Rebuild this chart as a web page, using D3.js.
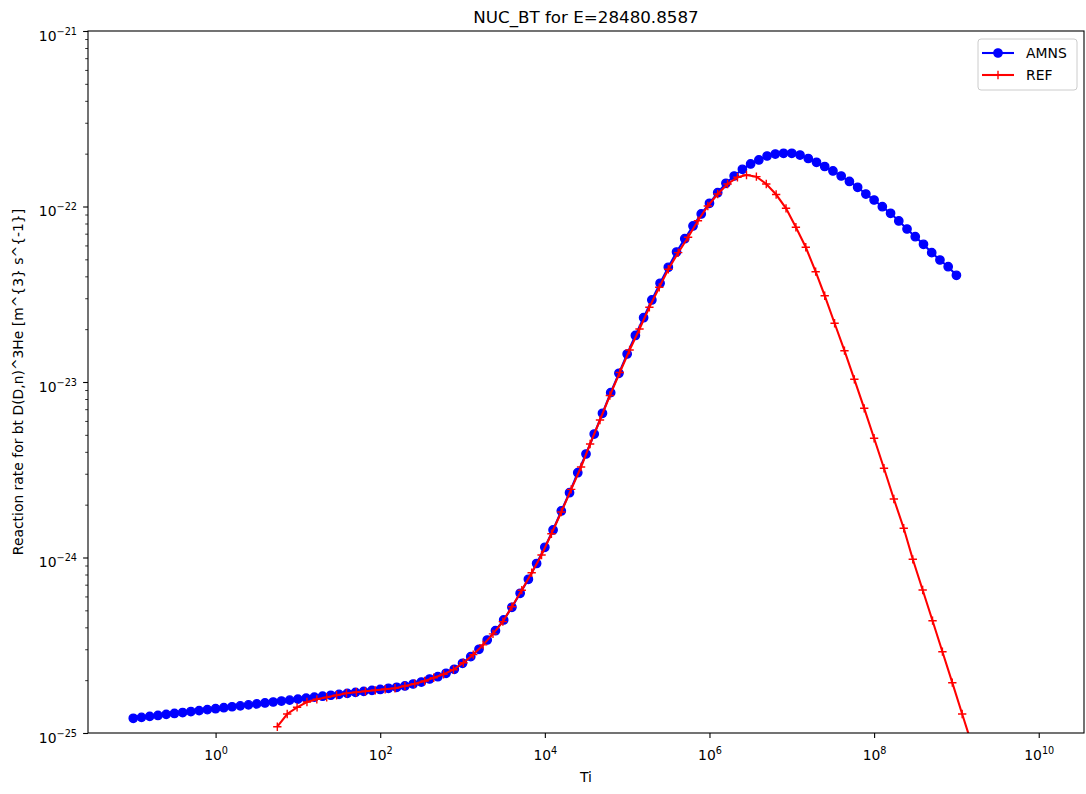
<!DOCTYPE html>
<html>
<head>
<meta charset="utf-8">
<script src="https://cdn.jsdelivr.net/npm/d3@7"></script>
<style>
  body { margin: 0; background: #fff; }
  svg { display: block; font-family: "DejaVu Sans", sans-serif; }
  svg text { font-family: "DejaVu Sans", sans-serif; }
</style>
</head>
<body>
<svg id="chart" width="1086" height="794"></svg>
<script>
// --- DATA ---
// Ti is stored as log10 exponents, rates in m^3 s^-1
const amnsTiExp = [
  -1.0, -0.9, -0.8, -0.7, -0.6, -0.5, -0.4, -0.3, -0.2, -0.1,
  0.0, 0.1, 0.2, 0.3, 0.4, 0.5, 0.6, 0.7, 0.8, 0.9,
  1.0, 1.1, 1.2, 1.3, 1.4, 1.5, 1.6, 1.7, 1.8, 1.9,
  2.0, 2.1, 2.2, 2.3, 2.4, 2.5, 2.6, 2.7, 2.8, 2.9,
  3.0, 3.1, 3.2, 3.3, 3.4, 3.5, 3.6, 3.7, 3.8, 3.9,
  4.0, 4.1, 4.2, 4.3, 4.4, 4.5, 4.6, 4.7, 4.8, 4.9,
  5.0, 5.1, 5.2, 5.3, 5.4, 5.5, 5.6, 5.7, 5.8, 5.9,
  6.0, 6.1, 6.2, 6.3, 6.4, 6.5, 6.6, 6.7, 6.8, 6.9,
  7.0, 7.1, 7.2, 7.3, 7.4, 7.5, 7.6, 7.7, 7.8, 7.9,
  8.0, 8.1, 8.2, 8.3, 8.4, 8.5, 8.6, 8.7, 8.8, 8.9,
  9.0
];
const amnsRate = [
  1.213e-25, 1.228e-25, 1.244e-25, 1.259e-25, 1.276e-25, 1.292e-25, 1.308e-25, 1.325e-25, 1.341e-25, 1.358e-25,
  1.375e-25, 1.393e-25, 1.411e-25, 1.428e-25, 1.447e-25, 1.465e-25, 1.483e-25, 1.502e-25, 1.521e-25, 1.540e-25,
  1.560e-25, 1.579e-25, 1.600e-25, 1.620e-25, 1.641e-25, 1.661e-25, 1.683e-25, 1.704e-25, 1.726e-25, 1.748e-25,
  1.770e-25, 1.798e-25, 1.822e-25, 1.853e-25, 1.902e-25, 1.952e-25, 2.031e-25, 2.093e-25, 2.189e-25, 2.307e-25,
  2.496e-25, 2.722e-25, 2.999e-25, 3.388e-25, 3.827e-25, 4.405e-25, 5.203e-25, 6.252e-25, 7.512e-25, 9.243e-25,
  1.143e-24, 1.435e-24, 1.841e-24, 2.339e-24, 3.042e-24, 3.888e-24, 5.053e-24, 6.632e-24, 8.695e-24, 1.121e-23,
  1.444e-23, 1.841e-23, 2.325e-23, 2.933e-23, 3.651e-23, 4.503e-23, 5.504e-23, 6.553e-23, 7.744e-23, 9.066e-23,
  1.043e-22, 1.198e-22, 1.356e-22, 1.492e-22, 1.629e-22, 1.747e-22, 1.841e-22, 1.940e-22, 1.991e-22, 2.010e-22,
  2.010e-22, 1.965e-22, 1.877e-22, 1.786e-22, 1.690e-22, 1.594e-22, 1.492e-22, 1.389e-22, 1.287e-22, 1.178e-22,
  1.089e-22, 9.974e-23, 9.149e-23, 8.270e-23, 7.443e-23, 6.729e-23, 6.090e-23, 5.456e-23, 4.956e-23, 4.539e-23,
  4.055e-23
];

const refTiExp = [
  0.75, 0.87, 0.99, 1.11, 1.23, 1.35, 1.47, 1.59, 1.71, 1.82,
  1.94, 2.06, 2.18, 2.30, 2.42, 2.54, 2.65, 2.77, 2.89, 3.01,
  3.13, 3.25, 3.37, 3.49, 3.60, 3.72, 3.84, 3.96, 4.08, 4.20,
  4.32, 4.44, 4.55, 4.67, 4.79, 4.91, 5.03, 5.15, 5.27, 5.39,
  5.50, 5.62, 5.74, 5.86, 5.98, 6.10, 6.22, 6.34, 6.45, 6.57,
  6.69, 6.81, 6.93, 7.05, 7.17, 7.29, 7.40, 7.52, 7.64, 7.76,
  7.88, 8.00, 8.12, 8.24, 8.36, 8.47, 8.59, 8.71, 8.83, 8.95,
  9.07, 9.19
];
const refRate = [
  1.086e-25, 1.283e-25, 1.401e-25, 1.502e-25, 1.556e-25, 1.597e-25, 1.640e-25, 1.684e-25, 1.706e-25, 1.728e-25,
  1.751e-25, 1.774e-25, 1.798e-25, 1.853e-25, 1.909e-25, 1.979e-25, 2.064e-25, 2.160e-25, 2.295e-25, 2.515e-25,
  2.797e-25, 3.177e-25, 3.670e-25, 4.313e-25, 5.245e-25, 6.512e-25, 8.182e-25, 1.033e-24, 1.365e-24, 1.817e-24,
  2.443e-24, 3.279e-24, 4.434e-24, 6.074e-24, 8.378e-24, 1.133e-23, 1.522e-23, 2.005e-23, 2.665e-23, 3.464e-23,
  4.388e-23, 5.456e-23, 6.676e-23, 8.301e-23, 1.007e-22, 1.178e-22, 1.344e-22, 1.467e-22, 1.512e-22, 1.479e-22,
  1.344e-22, 1.170e-22, 9.765e-23, 7.613e-23, 5.856e-23, 4.251e-23, 3.102e-23, 2.161e-23, 1.508e-23, 1.036e-23,
  7.081e-24, 4.778e-24, 3.224e-24, 2.154e-24, 1.467e-24, 9.766e-25, 6.529e-25, 4.364e-25, 2.906e-25, 1.935e-25,
  1.283e-25, 8.54e-26
];

const xTickExp = [0, 2, 4, 6, 8, 10];
const yTickExp = [-25, -24, -23, -22, -21];
const yMinorMult = [2, 3, 4, 5, 6, 7, 8, 9];

const titleText = "NUC_BT for E=28480.8587";
const xLabelText = "Ti";
const yLabelText = "Reaction rate for bt D(D,n)^3He [m^{3} s^{-1}]";

// --- LAYOUT ---
const plotLeft = 88, plotRight = 1084, plotTop = 31, plotBottom = 733;
const fontFam = "DejaVu Sans, sans-serif";

const x = d3.scaleLog().domain([Math.pow(10, -1.55), Math.pow(10, 10.55)]).range([plotLeft, plotRight]);
const y = d3.scaleLog().domain([1e-25, 1e-21]).range([plotBottom, plotTop]);

const svg = d3.select("#chart");

svg.append("defs").append("clipPath").attr("id", "plot-clip")
  .append("rect")
  .attr("x", plotLeft).attr("y", plotTop)
  .attr("width", plotRight - plotLeft).attr("height", plotBottom - plotTop);

const amns = amnsTiExp.map((e, i) => ({ ti: Math.pow(10, e), v: amnsRate[i] }));
const ref = refTiExp.map((e, i) => ({ ti: Math.pow(10, e), v: refRate[i] }));

const line = d3.line().x(d => x(d.ti)).y(d => y(d.v));

// --- SERIES ---
const plot = svg.append("g").attr("clip-path", "url(#plot-clip)");

plot.append("path")
  .datum(amns)
  .attr("d", line)
  .attr("fill", "none")
  .attr("stroke", "blue")
  .attr("stroke-width", 2.08);

plot.selectAll("circle.amns")
  .data(amns)
  .enter().append("circle")
  .attr("class", "amns")
  .attr("cx", d => x(d.ti))
  .attr("cy", d => y(d.v))
  .attr("r", 4.17)
  .attr("fill", "blue")
  .attr("stroke", "blue")
  .attr("stroke-width", 1.39);

plot.append("path")
  .datum(ref)
  .attr("d", line)
  .attr("fill", "none")
  .attr("stroke", "red")
  .attr("stroke-width", 2.08);

plot.selectAll("path.ref")
  .data(ref)
  .enter().append("path")
  .attr("class", "ref")
  .attr("d", d => {
    const px = x(d.ti), py = y(d.v), s = 4.17;
    return `M${px - s},${py}H${px + s}M${px},${py - s}V${py + s}`;
  })
  .attr("stroke", "red")
  .attr("stroke-width", 1.39)
  .attr("fill", "none");

// --- AXES ---
function supLabel(sel, exp) {
  sel.text(null);
  sel.append("tspan").attr("font-size", "13.9px").text("10");
  sel.append("tspan")
    .attr("dy", "-6")
    .attr("font-size", "9.7px")
    .text(exp < 0 ? "\u2212" + (-exp) : String(exp));
}

const xAxis = svg.append("g")
  .attr("transform", `translate(0,${plotBottom})`)
  .call(d3.axisBottom(x)
    .tickValues(xTickExp.map(e => Math.pow(10, e)))
    .tickSize(4.9).tickSizeOuter(0)
    .tickFormat(""));
xAxis.attr("font-family", fontFam).attr("font-size", "13.9px");
xAxis.select(".domain").remove();
xAxis.selectAll(".tick text").remove();
xAxis.selectAll(".tick line").attr("stroke", "#000").attr("stroke-width", 1.1);
xAxis.selectAll(".tick").append("text")
  .attr("y", 27)
  .attr("fill", "#000")
  .attr("text-anchor", "middle")
  .each(function (d, i) { supLabel(d3.select(this), xTickExp[i]); });

const yMinor = [];
yTickExp.slice(0, -1).forEach(e => yMinorMult.forEach(m => yMinor.push(m * Math.pow(10, e))));

const yAxisMinor = svg.append("g")
  .attr("transform", `translate(${plotLeft},0)`)
  .call(d3.axisLeft(y).tickValues(yMinor).tickSize(2.8).tickSizeOuter(0).tickFormat(""));
yAxisMinor.select(".domain").remove();
yAxisMinor.selectAll(".tick text").remove();
yAxisMinor.selectAll(".tick line").attr("stroke", "#000").attr("stroke-width", 0.8);

const yAxis = svg.append("g")
  .attr("transform", `translate(${plotLeft},0)`)
  .call(d3.axisLeft(y)
    .tickValues(yTickExp.map(e => Math.pow(10, e)))
    .tickSize(4.9).tickSizeOuter(0)
    .tickFormat(""));
yAxis.attr("font-family", fontFam).attr("font-size", "13.9px");
yAxis.select(".domain").remove();
yAxis.selectAll(".tick text").remove();
yAxis.selectAll(".tick line").attr("stroke", "#000").attr("stroke-width", 1.1);
yAxis.selectAll(".tick").append("text")
  .attr("x", -11)
  .attr("y", 9)
  .attr("fill", "#000")
  .attr("text-anchor", "end")
  .each(function (d, i) { supLabel(d3.select(this), yTickExp[i]); });

// frame (spines)
svg.append("rect")
  .attr("x", plotLeft).attr("y", plotTop)
  .attr("width", plotRight - plotLeft).attr("height", plotBottom - plotTop)
  .attr("fill", "none")
  .attr("stroke", "#000")
  .attr("stroke-width", 1.1);

// --- TEXT ---
svg.append("text")
  .attr("x", (plotLeft + plotRight) / 2).attr("y", 22.5)
  .attr("text-anchor", "middle")
  .attr("font-size", "16.7px")
  .text(titleText);

svg.append("text")
  .attr("x", (plotLeft + plotRight) / 2).attr("y", 782)
  .attr("text-anchor", "middle")
  .attr("font-size", "13.9px")
  .text(xLabelText);

svg.append("text")
  .attr("transform", `translate(23,${(plotTop + plotBottom) / 2}) rotate(-90)`)
  .attr("text-anchor", "middle")
  .attr("font-size", "13.9px")
  .text(yLabelText);

// --- LEGEND ---
const legend = svg.append("g").attr("transform", "translate(978,39)");
legend.append("rect")
  .attr("x", 0).attr("y", 0)
  .attr("width", 99).attr("height", 51)
  .attr("rx", 3)
  .attr("fill", "#fff").attr("fill-opacity", 0.8)
  .attr("stroke", "#ccc").attr("stroke-width", 1);

const legendItems = [
  { name: "AMNS", color: "blue", marker: "circle" },
  { name: "REF", color: "red", marker: "plus" }
];
legendItems.forEach((it, i) => {
  const cy = 14 + i * 22;
  const g = legend.append("g");
  g.append("line")
    .attr("x1", 4).attr("x2", 36)
    .attr("y1", cy).attr("y2", cy)
    .attr("stroke", it.color).attr("stroke-width", 2.08);
  if (it.marker === "circle") {
    g.append("circle").attr("cx", 20).attr("cy", cy).attr("r", 4.17)
      .attr("fill", it.color).attr("stroke", it.color).attr("stroke-width", 1.39);
  } else {
    g.append("path").attr("d", `M${20 - 4.17},${cy}H${20 + 4.17}M20,${cy - 4.17}V${cy + 4.17}`)
      .attr("stroke", it.color).attr("stroke-width", 1.39);
  }
  g.append("text")
    .attr("x", 48).attr("y", cy + 5)
    .attr("font-size", "13.9px")
    .text(it.name);
});
</script>
</body>
</html>
